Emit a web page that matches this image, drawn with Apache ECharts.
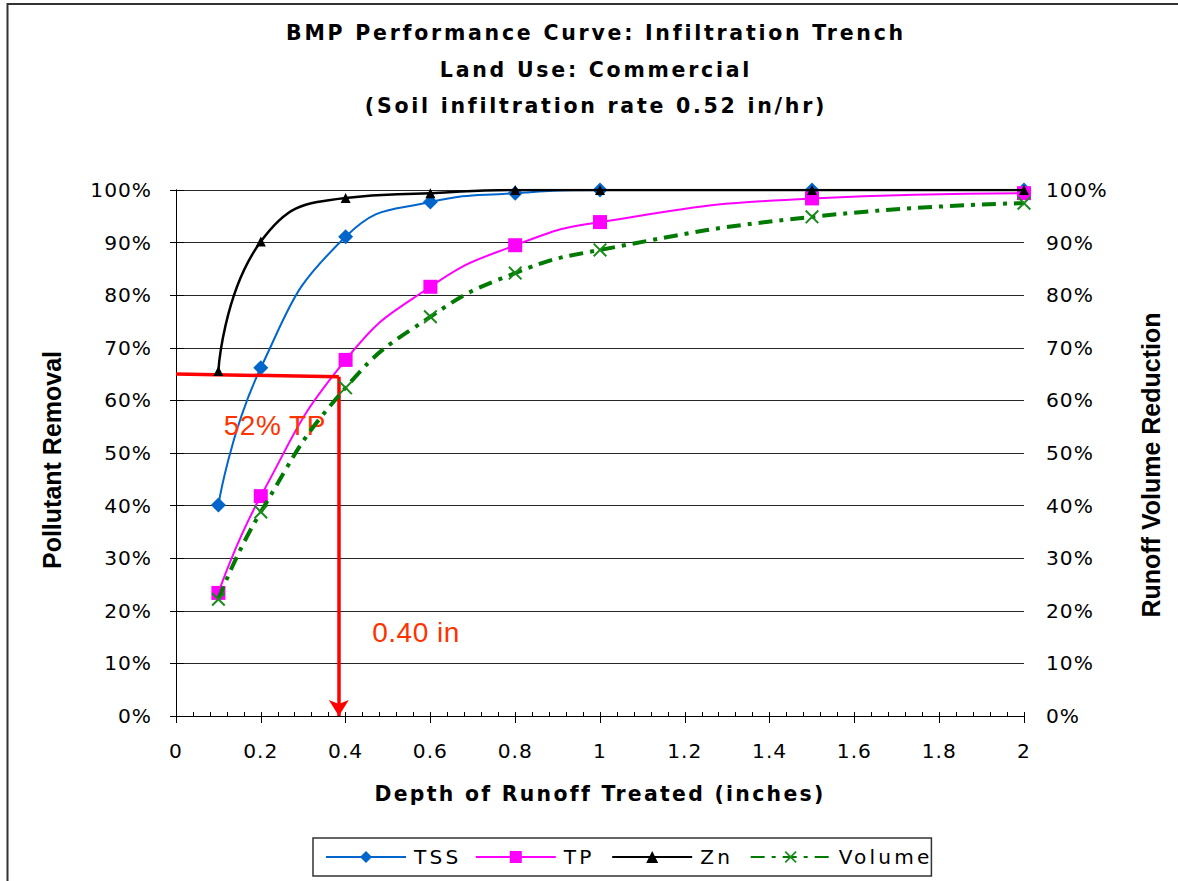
<!DOCTYPE html>
<html>
<head>
<meta charset="utf-8">
<script src="https://cdn.jsdelivr.net/npm/echarts@6/dist/echarts.min.js"></script>
<style>
html, body { margin: 0; padding: 0; background: #fff; }
#chart { width: 1178px; height: 881px; }
#chart text { letter-spacing: 1px; }
#chart text[style*="20.5px"] { letter-spacing: 2.75px; }
#chart text[style*="20.4px"] { letter-spacing: 2.3px; }
#chart text[style*="25px"] { letter-spacing: 0px; }
#chart text[style*="20.2px"] { letter-spacing: 1px; }
#chart text[style*="20.1px"] { letter-spacing: 3.2px; }
#chart text[style*="28px"] { letter-spacing: 0.5px; }
</style>
</head>
<body>
<div id="chart"></div>
<script>
// ---- data ----
const depth = [0.1, 0.2, 0.4, 0.6, 0.8, 1.0, 1.5, 2.0];
const tss = [40.1, 66.2, 91.1, 97.7, 99.4, 100, 100, 100];
const tp = [23.4, 41.8, 67.7, 81.6, 89.5, 93.9, 98.4, 99.4];
const zn = [65.6, 90.2, 98.5, 99.4, 100, 100, 100, 100];
const volume = [22.2, 38.8, 62.4, 75.9, 84.2, 88.6, 94.9, 97.5];

const seriesNames = ['TSS', 'TP', 'Zn', 'Volume'];

// red guide: horizontal at TP removal, down to the treated depth
const guideStart = [0, 65.0];
const guideCorner = [0.384, 64.5];
const guideEnd = [0.384, 0];
const annotationTexts = ['52% TP', '0.40 in'];
const annotationX = [0.233, 0.566];
const annotationY = [55.3, 15.8];

const titleLines = [
  'BMP Performance Curve: Infiltration Trench',
  'Land Use: Commercial',
  '(Soil infiltration rate 0.52 in/hr)'
];

const pairs = arr => depth.map((d, i) => [d, arr[i]]);
const WIDE = 'DejaVu Sans, Verdana, sans-serif';
const ARIAL = 'Liberation Sans, Arial, sans-serif';
const X_PATH = 'path://M0,1L1,0L10,9L9,10Z M9,0L10,1L1,10L0,9Z';

const chart = echarts.init(document.getElementById('chart'), null, { renderer: 'svg' });

const option = {
  animation: false,
  backgroundColor: '#fff',
  graphic: [{
    type: 'rect',
    shape: { x: 7.5, y: 4, width: 1200, height: 900 },
    style: { fill: 'none', stroke: '#333', lineWidth: 2 },
    silent: true, z: -10
  }],
  title: {
    text: titleLines.join('\n'),
    left: 591,
    textAlign: 'center',
    top: 10,
    textStyle: { fontFamily: WIDE, fontWeight: 'bold', fontSize: 20.5, lineHeight: 36.5, color: '#000' }
  },
  legend: {
    data: seriesNames,
    left: 313,
    top: 838,
    padding: [9, 18, 9, 12],
    itemWidth: 80,
    itemHeight: 15,
    itemGap: 23,
    borderColor: '#333',
    borderWidth: 1.5,
    textStyle: { fontFamily: WIDE, fontSize: 20.1, color: '#000', padding: [0, 0, 0, 3] }
  },
  grid: { left: 176, right: 154, top: 190, bottom: 165 },
  xAxis: [{
    type: 'value', min: 0, max: 2, interval: 0.2,
    name: 'Depth of Runoff Treated (inches)',
    nameLocation: 'middle', nameGap: 68,
    nameTextStyle: { fontFamily: WIDE, fontWeight: 'bold', fontSize: 20.4, color: '#000' },
    axisLine: { show: true, lineStyle: { color: '#000', width: 1 } },
    axisTick: { show: true, inside: false, length: 7, lineStyle: { color: '#000' } },
    axisLabel: { fontFamily: WIDE, fontSize: 20.2, color: '#000', margin: 25 },
    splitLine: { show: false }
  }, {
    type: 'value', min: 0, max: 2, interval: 0.2, position: 'bottom',
    axisLine: { show: false },
    axisTick: { show: true, inside: true, length: 4, lineStyle: { color: '#000' } },
    minorTick: { show: true, splitNumber: 5, length: 4, lineStyle: { color: '#000' } },
    axisLabel: { show: false },
    splitLine: { show: false }
  }],
  yAxis: [{
    type: 'value', min: 0, max: 100, interval: 10, position: 'left',
    name: 'Pollutant Removal', nameLocation: 'middle', nameRotate: 90, nameGap: 112,
    nameTextStyle: { fontFamily: ARIAL, fontWeight: 'bold', fontSize: 25, color: '#000', padding: [0, 14, 0, 0] },
    axisLine: { show: true, lineStyle: { color: '#000', width: 1 } },
    axisTick: { show: true, inside: false, length: 6, lineStyle: { color: '#000' } },
    axisLabel: { fontFamily: WIDE, fontSize: 20.2, color: '#000', margin: 24, formatter: '{value}%' },
    splitLine: { show: true, lineStyle: { color: '#262626', width: 1 } }
  }, {
    type: 'value', min: 0, max: 100, interval: 10, position: 'right',
    name: 'Runoff Volume Reduction', nameLocation: 'middle', nameRotate: 90, nameGap: 114,
    nameTextStyle: { fontFamily: ARIAL, fontWeight: 'bold', fontSize: 25, color: '#000', padding: [0, 24, 0, 0] },
    axisLine: { show: true, lineStyle: { color: '#000', width: 1 } },
    axisTick: { show: true, inside: false, length: 8, lineStyle: { color: '#000' } },
    axisLabel: { fontFamily: WIDE, fontSize: 20.2, color: '#000', margin: 22, formatter: '{value}%' },
    splitLine: { show: false }
  }],
  series: [{
    name: 'guide', type: 'line', data: [], silent: true, z: 1,
    markLine: {
      silent: true, symbol: ['none', 'none'], precision: 3,
      lineStyle: { color: '#ff0000', width: 3.5, type: 'solid' },
      label: { show: false },
      data: [
        [{ coord: guideStart, symbol: 'none' }, { coord: guideCorner, symbol: 'none' }],
        [{ coord: guideCorner, symbol: 'none' }, { coord: guideEnd, symbol: 'arrow', symbolSize: [15, 16] }]
      ]
    },
    markPoint: {
      silent: true, symbol: 'rect', symbolSize: 1,
      itemStyle: { color: 'rgba(0,0,0,0)' },
      label: { show: true, position: 'inside', color: '#ff3300', fontFamily: ARIAL, fontSize: 28, formatter: p => p.name },
      data: annotationTexts.map((t, i) => ({ name: t, coord: [annotationX[i], annotationY[i]] }))
    }
  }, {
    name: 'TSS', type: 'line', data: pairs(tss), smooth: 0.5, z: 3,
    symbol: 'diamond', symbolSize: 15,
    lineStyle: { color: '#0066cc', width: 2 },
    itemStyle: { color: '#0066cc' }
  }, {
    name: 'TP', type: 'line', data: pairs(tp), smooth: 0.5, z: 4,
    symbol: 'rect', symbolSize: 14,
    lineStyle: { color: '#ff00ff', width: 2 },
    itemStyle: { color: '#ff00ff' }
  }, {
    name: 'Zn', type: 'line', data: pairs(zn), smooth: 0.5, z: 5,
    symbol: 'triangle', symbolSize: 10,
    lineStyle: { color: '#000', width: 2.5 },
    itemStyle: { color: '#000' }
  }, {
    name: 'Volume', type: 'line', yAxisIndex: 1, data: pairs(volume), smooth: 0.5, z: 6,
    symbol: X_PATH, symbolSize: 14,
    lineStyle: { color: '#007a00', width: 4, type: [14, 7, 4, 7] },
    itemStyle: { color: '#1a8a1a' }
  }]
};
chart.setOption(option);
</script>
</body>
</html>
